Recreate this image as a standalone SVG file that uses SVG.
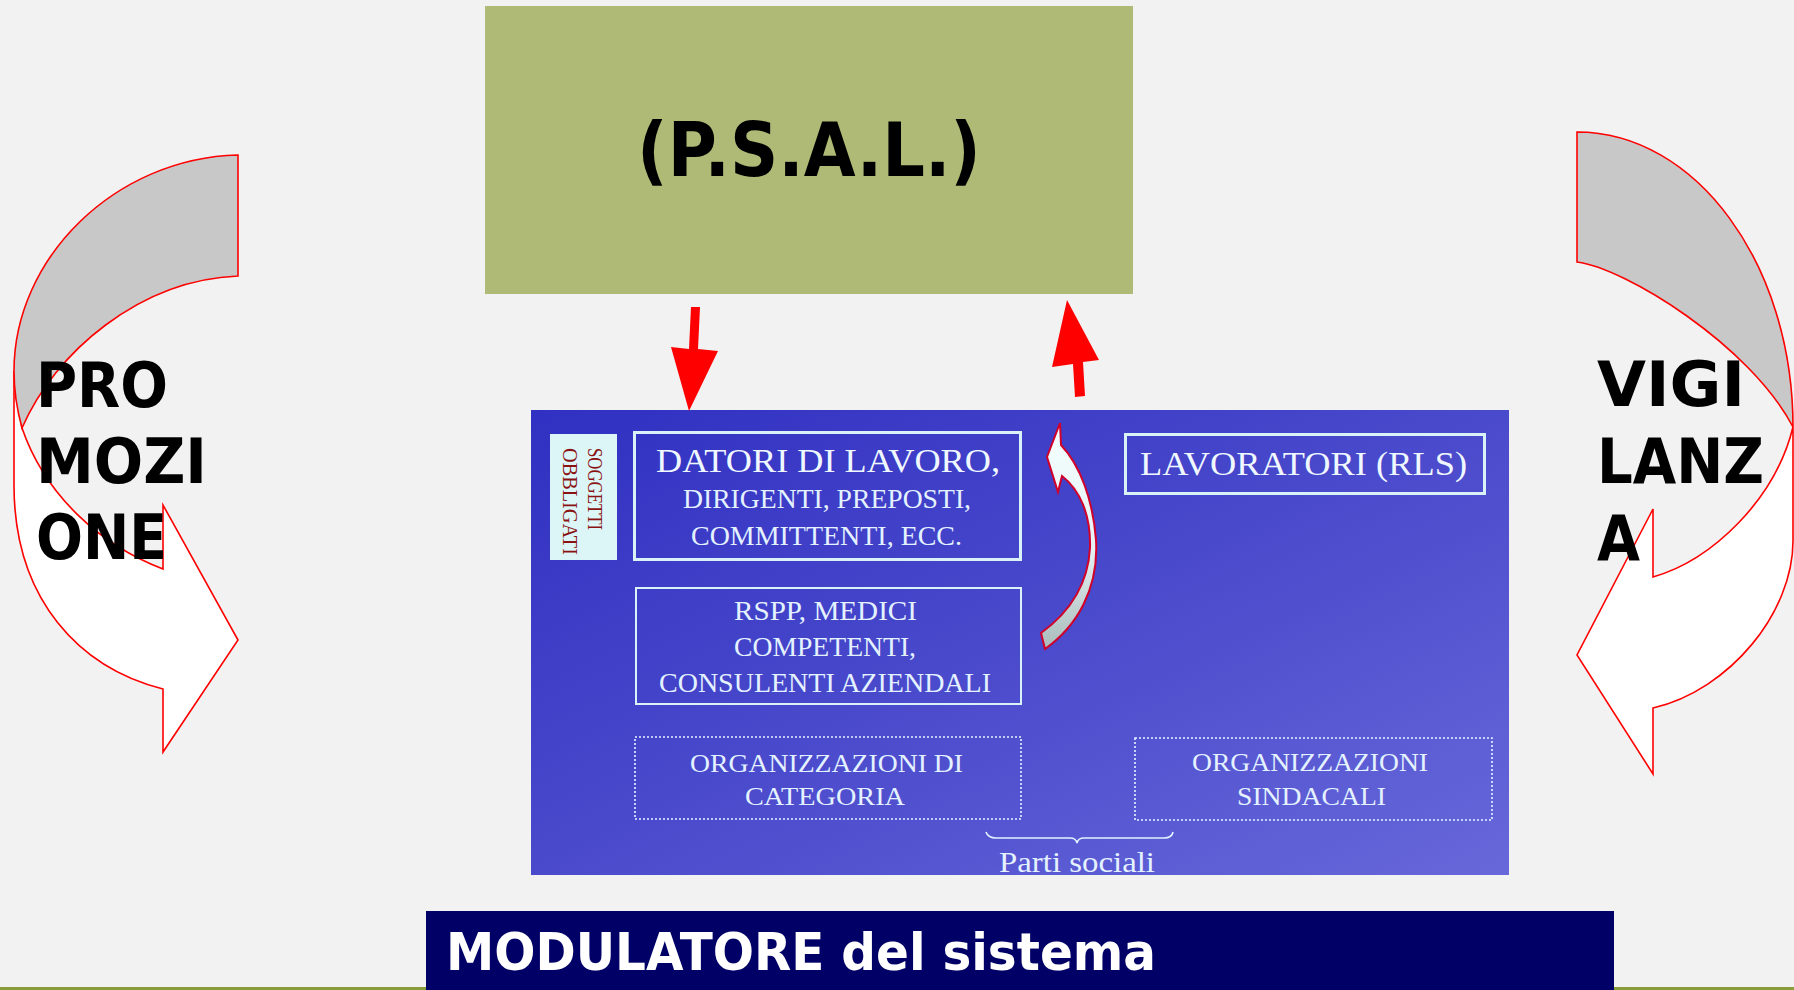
<svg xmlns="http://www.w3.org/2000/svg" width="1794" height="990" viewBox="0 0 1794 990">
<defs>
<linearGradient id="panelGrad" x1="0" y1="0" x2="1" y2="1">
<stop offset="0" stop-color="#3030c2"/>
<stop offset="0.5" stop-color="#4a4acc"/>
<stop offset="1" stop-color="#6868da"/>
</linearGradient>
<linearGradient id="curlGrad" x1="0" y1="0" x2="0" y2="1">
<stop offset="0" stop-color="#f4ffff"/>
<stop offset="0.55" stop-color="#e6f2f4"/>
<stop offset="1" stop-color="#a9bcbc"/>
</linearGradient>
<style>
.big{font-family:"DejaVu Sans",Verdana,sans-serif;font-weight:bold;fill:#000}
.pt{font-family:"Liberation Serif","Times New Roman",serif;fill:#e4f2ff}
.band{fill:#c8c8c8;stroke:#ff0000;stroke-width:1.6}
.arw{fill:#ffffff;stroke:#ff0000;stroke-width:1.6}
.red{fill:#ff0000}
.dot{fill:none;stroke:#e8f4ff;stroke-width:1.6;stroke-dasharray:2 2}
</style>
</defs>
<rect width="1794" height="990" fill="#f2f2f2"/>
<rect x="0" y="987" width="1794" height="3" fill="#8a9c38"/>

<g id="node-promozione">
<path class="arw" d="M14,371 L14,485 C14,600 80,668 163,689 L163,752 L238,640 L163,505 L163,569 C100,545 45,495 22,428 Z"/>
<path class="band" d="M238,155 C115,158 14,258 14,371 C14,392 17,410 22,428 C55,352 140,280 238,276 Z"/>
<text class="big" font-size="62" x="36" y="407" textLength="132" lengthAdjust="spacingAndGlyphs">PRO</text>
<text class="big" font-size="62" x="36" y="483" textLength="171" lengthAdjust="spacingAndGlyphs">MOZI</text>
<text class="big" font-size="62" x="36" y="559" textLength="131" lengthAdjust="spacingAndGlyphs">ONE</text>
</g>

<g id="node-vigilanza">
<path class="arw" d="M1793,427 L1793,541 C1793,612 1730,690 1653,708 L1653,774 L1577,655 L1653,509 L1653,577 C1712,560 1775,500 1793,427 Z"/>
<path class="band" d="M1577,132 C1696,132 1793,264 1793,427 C1750,345 1625,268 1577,262 Z"/>
<text class="big" font-size="62" x="1597" y="406" textLength="148" lengthAdjust="spacingAndGlyphs">VIGI</text>
<text class="big" font-size="62" x="1597" y="483" textLength="167" lengthAdjust="spacingAndGlyphs">LANZ</text>
<text class="big" font-size="62" x="1597" y="560" textLength="43" lengthAdjust="spacingAndGlyphs">A</text>
</g>

<g id="node-psal">
<rect x="485" y="6" width="648" height="288" fill="#aeba75"/>
<text class="big" font-size="75" x="637" y="176" textLength="344" lengthAdjust="spacingAndGlyphs">(P.S.A.L.)</text>
</g>

<g id="node-panel">
<rect x="531" y="410" width="978" height="465" fill="url(#panelGrad)"/>
</g>

<g id="node-soggetti">
<rect x="550" y="434" width="67" height="126" fill="#dcf6f8"/>
<text class="pt" font-size="21" fill="#8a1212" style="fill:#8a1212" transform="translate(588,448) rotate(90)" textLength="82" lengthAdjust="spacingAndGlyphs">SOGGETTI</text>
<text class="pt" font-size="21" style="fill:#8a1212" transform="translate(563,448) rotate(90)" textLength="107" lengthAdjust="spacingAndGlyphs">OBBLIGATI</text>
</g>

<g id="node-datori">
<rect x="634.5" y="432.5" width="386" height="127" fill="none" stroke="#d8f2f8" stroke-width="3"/>
<text class="pt" font-size="33" x="656" y="472" textLength="344" lengthAdjust="spacingAndGlyphs" style="fill:#f0f8ff">DATORI DI LAVORO,</text>
<text class="pt" font-size="27" x="683" y="508" textLength="288" lengthAdjust="spacingAndGlyphs">DIRIGENTI, PREPOSTI,</text>
<text class="pt" font-size="27" x="691" y="545" textLength="271" lengthAdjust="spacingAndGlyphs">COMMITTENTI, ECC.</text>
</g>

<g id="node-rspp">
<rect x="636" y="588" width="385" height="116" fill="none" stroke="#d8f2f8" stroke-width="2"/>
<text class="pt" font-size="28" x="734" y="620" textLength="183" lengthAdjust="spacingAndGlyphs">RSPP,  MEDICI</text>
<text class="pt" font-size="28" x="734" y="656" textLength="182" lengthAdjust="spacingAndGlyphs">COMPETENTI,</text>
<text class="pt" font-size="28" x="659" y="692" textLength="332" lengthAdjust="spacingAndGlyphs">CONSULENTI AZIENDALI</text>
</g>

<g id="node-lavoratori">
<rect x="1125.5" y="434.5" width="359" height="59" fill="none" stroke="#d8f2f8" stroke-width="3"/>
<text class="pt" font-size="33" x="1140" y="475" textLength="327" lengthAdjust="spacingAndGlyphs" style="fill:#f0f8ff">LAVORATORI (RLS)</text>
</g>

<g id="node-org-categoria">
<rect class="dot" x="635" y="737" width="386" height="82"/>
<text class="pt" font-size="26" x="690" y="772" textLength="273" lengthAdjust="spacingAndGlyphs">ORGANIZZAZIONI DI</text>
<text class="pt" font-size="26" x="745" y="805" textLength="160" lengthAdjust="spacingAndGlyphs">CATEGORIA</text>
</g>

<g id="node-org-sindacali">
<rect class="dot" x="1135" y="738" width="357" height="82"/>
<text class="pt" font-size="26" x="1192" y="771" textLength="236" lengthAdjust="spacingAndGlyphs">ORGANIZZAZIONI</text>
<text class="pt" font-size="26" x="1237" y="805" textLength="149" lengthAdjust="spacingAndGlyphs">SINDACALI</text>
</g>

<g id="node-parti-sociali">
<path d="M986,832 Q988,838 996,838 L1070,838 Q1076,838 1077,843 Q1078,838 1084,838 L1164,838 Q1172,838 1173,832" fill="none" stroke="#e4f2ff" stroke-width="1.6"/>
<text class="pt" font-size="30" x="999" y="872" textLength="156" lengthAdjust="spacingAndGlyphs">Parti sociali</text>
</g>

<g id="connectors">
<polygon class="red" points="691,307 700,307 698,349 718,351 689,411 671,347 689,349"/>
<polygon class="red" points="1067,300 1099,360 1083,362 1085,396 1075,397 1073,364 1052,367"/>
<path d="M1060,423 L1061,445 C1080,465 1093,500 1096,540 C1099,590 1076,627 1045,649 L1041,633 C1070,612 1088,585 1090,548 C1091,515 1080,490 1062,476 L1058,492 L1047,457 Z" fill="url(#curlGrad)" stroke="#d0002a" stroke-width="2"/>
</g>

<g id="node-modulatore">
<rect x="426" y="911" width="1188" height="79" fill="#000066"/>
<text class="big" font-size="52" x="446" y="970" textLength="710" lengthAdjust="spacingAndGlyphs" style="fill:#ffffff">MODULATORE  del sistema</text>
</g>
</svg>
